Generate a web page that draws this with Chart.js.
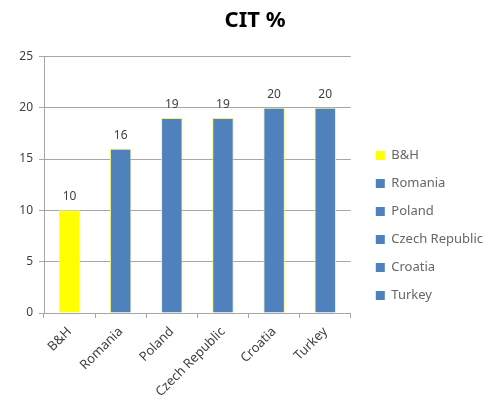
<!DOCTYPE html>
<html lang="en">
<head>
<script src="https://cdn.jsdelivr.net/npm/chart.js@4.4.1/dist/chart.umd.min.js"></script>
<style>
  html, body { margin: 0; padding: 0; background: #fff; }
  #wrap { width: 496px; height: 403px; }
</style>
</head>
<body>
<div id="wrap"><canvas id="chart" width="496" height="403"></canvas></div>
<script>
var countries = ['B&H', 'Romania', 'Poland', 'Czech Republic', 'Croatia', 'Turkey'];
var citRates = [10, 16, 19, 19, 20, 20];
var barColors = ['#ffff00', '#4f81bd', '#4f81bd', '#4f81bd', '#4f81bd', '#4f81bd'];
var yTicks = [0, 5, 10, 15, 20, 25];

var txt = '#404040';
var fam = "'Noto Sans', 'Open Sans', sans-serif";

// value labels above each bar
var valueLabels = {
  id: 'valueLabels',
  afterDatasetsDraw: function (chart) {
    var ctx = chart.ctx;
    var meta = chart.getDatasetMeta(0);
    ctx.save();
    ctx.font = '12px ' + fam;
    ctx.fillStyle = txt;
    ctx.textAlign = 'center';
    ctx.textBaseline = 'alphabetic';
    meta.data.forEach(function (bar, i) {
      ctx.fillText(String(citRates[i]), bar.x, bar.y - 10);
    });
    ctx.restore();
  }
};

var chart = new Chart(document.getElementById('chart').getContext('2d'), {
  type: 'bar',
  data: {
    labels: countries,
    datasets: [{
      label: 'CIT %',
      data: citRates,
      backgroundColor: barColors,
      borderColor: '#f4f47a',
      borderWidth: 1,
      barPercentage: 0.42,
      categoryPercentage: 1
    }]
  },
  options: {
    responsive: false,
    animation: false,
    layout: { padding: { left: 17, right: 3, top: 0, bottom: 0 } },
    plugins: {
      title: {
        display: true,
        text: 'CIT %',
        color: '#000',
        font: { family: fam, size: 22, weight: 'bold' },
        padding: { top: 8, bottom: 22 }
      },
      tooltip: { enabled: false },
      legend: {
        position: 'right',
        maxWidth: 140,
        title: { display: true, text: ' ', font: { size: 11 }, padding: { top: 35, bottom: 0 } },
        labels: {
          color: txt,
          font: { family: fam, size: 13 },
          boxWidth: 9,
          boxHeight: 9,
          padding: 15,
          generateLabels: function (chart) {
            return countries.map(function (c, i) {
              return { text: c, fillStyle: barColors[i], strokeStyle: barColors[i], lineWidth: 0, index: i };
            });
          }
        }
      }
    },
    scales: {
      x: {
        grid: { drawOnChartArea: false, drawTicks: true, tickLength: 5, color: '#a6a6a6' },
        border: { color: '#a6a6a6' },
        ticks: { color: txt, font: { family: fam, size: 13 }, maxRotation: 45, minRotation: 45, padding: 6 },
        afterFit: function (s) { s.height = 90; }
      },
      y: {
        min: 0,
        max: 25,
        afterBuildTicks: function (s) { s.ticks = yTicks.map(function (v) { return { value: v }; }); },
        grid: { color: '#a6a6a6', tickLength: 5 },
        border: { color: '#a6a6a6' },
        ticks: { color: txt, font: { family: fam, size: 12 }, padding: 6 },
        afterFit: function (s) { s.width = 27; }
      },
      // empty gap between plot and legend
      gap: {
        position: 'right',
        display: true,
        ticks: { display: false },
        grid: { display: false },
        border: { display: false },
        afterFit: function (s) { s.width = 10; }
      }
    }
  },
  plugins: [valueLabels]
});
</script>
</body>
</html>
